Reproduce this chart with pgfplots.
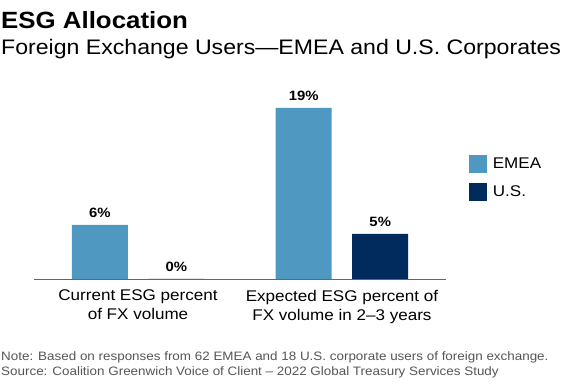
\documentclass[border=0pt]{standalone}
\usepackage{fontspec}
\setmainfont{Liberation Sans}[FakeStretch=1.1]
\usepackage{pgfplots}
\pgfplotsset{compat=1.18}
\definecolor{emea}{HTML}{4F98C1}
\definecolor{usc}{HTML}{002B5C}
\definecolor{notegray}{HTML}{555555}
\definecolor{axisgray}{HTML}{666666}
\begin{document}
\begin{tikzpicture}[x=1pt,y=1pt]
\path[use as bounding box] (0,0) rectangle (566,-390);
\node[anchor=base west, inner sep=0, font=\fontsize{23.5}{23.5}\selectfont\bfseries] at (1,-29) {ESG Allocation};
\node[anchor=base west, inner sep=0, font=\fontsize{21}{21}\selectfont] at (1,-55) {Foreign Exchange Users—EMEA and U.S. Corporates};
\begin{axis}[
  at={(34pt,-279pt)}, anchor=south west,
  scale only axis, width=412pt, height=180pt,
  xmin=-0.51, xmax=1.51, ymin=0, ymax=20,
  ybar, bar width=56pt,
  hide y axis,
  axis x line*=bottom,
  x axis line style={draw=axisgray, line width=0.8pt},
  xtick={0,1}, major tick length=0pt,
  xticklabels={{Current ESG percent\\of FX volume},{Expected ESG percent of\\FX volume in 2–3 years}},
  xticklabel style={align=center, font=\fontsize{15.5}{19}\selectfont, yshift=-7.5pt},
  /pgf/number format/assume math mode=true,
  nodes near coords={\pgfmathprintnumber{\pgfplotspointmeta}\%},
  every node near coord/.append style={anchor=base, inner sep=0pt, yshift=7.5pt, font=\fontsize{13.5}{13.5}\selectfont\bfseries, text=black},
  legend style={draw=none, fill=none, at={(1.055,0.69)}, anchor=north west, inner sep=0pt, row sep=10pt, column sep=4pt, font=\fontsize{15.5}{15.5}\selectfont, cells={anchor=west}},
  legend image code/.code={\fill[#1] (0pt,-9pt) rectangle (18pt,9pt);},
  clip=false,
]
\addplot[fill=emea, draw=none, bar shift=-38.25pt] coordinates {(0,6) (1,19)};
\addplot[fill=usc, draw=none, bar shift=38.25pt] coordinates {(0,0) (1,5)};
\legend{EMEA, U.S.}
\end{axis}
\node[anchor=base west, inner sep=0, text=notegray, font=\fontsize{12.2}{12.2}\selectfont] at (1,-360.5) {Note: Based on responses from 62 EMEA and 18 U.S. corporate users of foreign exchange.};
\node[anchor=base west, inner sep=0, text=notegray, font=\fontsize{12.2}{12.2}\selectfont] at (1,-375.5) {Source: Coalition Greenwich Voice of Client – 2022 Global Treasury Services Study};
\end{tikzpicture}
\end{document}
